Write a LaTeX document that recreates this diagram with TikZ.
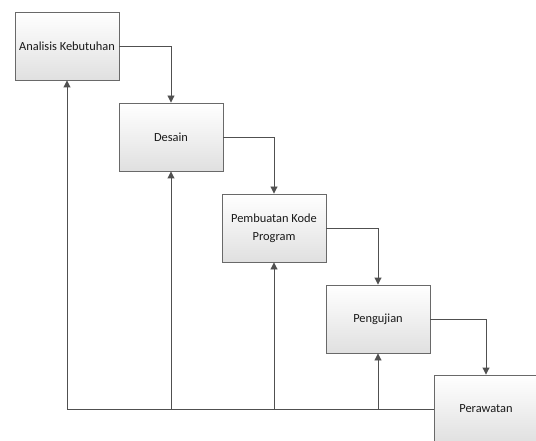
\documentclass[tikz,border=0pt]{standalone}
\usepackage{fontspec}
\setmainfont{Carlito}
\usetikzlibrary{shapes,backgrounds}
\usetikzlibrary{arrows.meta}

\definecolor{garis}{RGB}{80,80,80}
\definecolor{tepi}{RGB}{105,105,105}
\definecolor{bawah}{RGB}{224,224,224}

\tikzset{
  tahap/.style={draw=tepi, line width=0.9pt, top color=white, bottom color=bawah,
    minimum width=104pt, minimum height=68pt, align=center, inner sep=2pt,
    font=\fontsize{12.4}{18}\selectfont, text=black!90},
  alur/.style={draw=garis, line width=0.9pt, -{Triangle[length=7pt,width=7pt]}}
}

\begin{document}
\begin{tikzpicture}[x=1pt, y=-1pt]
\useasboundingbox (0,0) rectangle (536,441);
\node[tahap] (analisis) at (67,46) {Analisis Kebutuhan};
\node[tahap] (desain) at (171,137) {Desain};
\node[tahap] (kode) at (274,228) {Pembuatan Kode\\Program};
\node[tahap] (uji) at (378,319) {Pengujian};
\node[tahap] (rawat) at (486,409) {Perawatan};

% alur maju
\draw[alur] (analisis.east) -| (desain.north);
\draw[alur] (desain.east) -| (kode.north);
\draw[alur] (kode.east) -| (uji.north);
\draw[alur] (uji.east) -| (rawat.north);

% umpan balik
\draw[draw=garis, line width=0.9pt] (rawat.west) -- (analisis.south |- rawat.west);
\foreach \n in {analisis,desain,kode,uji}
  \draw[alur] (\n.south |- rawat.west) -- (\n.south);
\end{tikzpicture}
\end{document}
